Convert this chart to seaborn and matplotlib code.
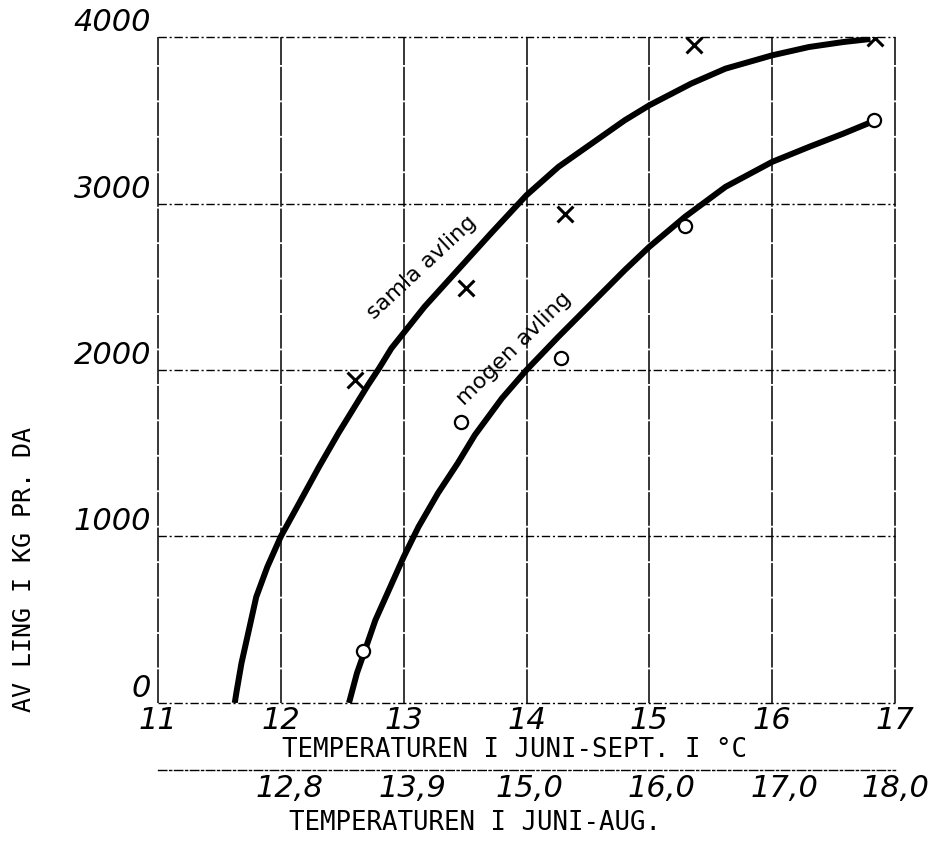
import matplotlib
matplotlib.use("Agg")
import matplotlib.pyplot as plt
import seaborn as sns
import pandas as pd

# Curves (temperature Jun-Sep, yield kg/da)
samla_curve_x = [11.625, 11.64, 11.68, 11.74, 11.80, 11.89, 12.0, 12.15, 12.31,
                 12.47, 12.60, 12.71, 12.80, 12.90, 13.17, 13.44, 13.71, 14.0,
                 14.26, 14.53, 14.80, 15.0, 15.34, 15.62, 16.0, 16.30, 16.58,
                 16.80]
samla_curve_y = [0, 70, 240, 438, 637, 817, 1000, 1201, 1417,
                 1622, 1778, 1910, 2010, 2130, 2380, 2600, 2820, 3050,
                 3220, 3360, 3500, 3590, 3720, 3810, 3890, 3940, 3970,
                 3988]
mogen_curve_x = [12.555, 12.62, 12.68, 12.77, 12.88, 13.0, 13.12, 13.28, 13.44,
                 13.58, 13.80, 14.0, 14.26, 14.53, 14.80, 15.0, 15.29, 15.62,
                 16.0, 16.30, 16.58, 16.81]
mogen_curve_y = [0, 180, 306, 498, 679, 877, 1057, 1261, 1440,
                 1610, 1830, 2000, 2200, 2400, 2600, 2740, 2920, 3100,
                 3250, 3340, 3420, 3490]

# Observed points
samla_pts_x = [12.60, 13.51, 14.31, 15.36, 16.84]
samla_pts_y = [1940, 2490, 2935, 3950, 3995]
mogen_pts_x = [12.67, 13.47, 14.28, 15.29, 16.83]
mogen_pts_y = [312, 1688, 2070, 2862, 3502]

# Axis ticks
x_ticks = [11, 12, 13, 14, 15, 16, 17]
y_ticks = [0, 1000, 2000, 3000, 4000]
aug_tick_pos = [12.07, 13.07, 14.02, 15.1, 16.1, 17.0]
aug_tick_labels = ["12,8", "13,9", "15,0", "16,0", "17,0", "18,0"]

samla_curve = pd.DataFrame({"temp": samla_curve_x, "avling": samla_curve_y})
mogen_curve = pd.DataFrame({"temp": mogen_curve_x, "avling": mogen_curve_y})
samla_pts = pd.DataFrame({"temp": samla_pts_x, "avling": samla_pts_y})
mogen_pts = pd.DataFrame({"temp": mogen_pts_x, "avling": mogen_pts_y})

sns.set_theme(style="white")
plt.rcParams["font.family"] = ["DejaVu Sans"]
plt.rcParams["text.color"] = "black"
plt.rcParams["xtick.color"] = "black"
plt.rcParams["ytick.color"] = "black"
plt.rcParams["axes.labelcolor"] = "black"

fig = plt.figure(figsize=(9.37, 8.43), dpi=100)
ax = fig.add_axes([0.1686, 0.1661, 0.7866, 0.7900])

for curve in (samla_curve, mogen_curve):
    sns.lineplot(x="temp", y="avling", data=curve, sort=False, color="black",
                 linewidth=4.3, solid_joinstyle="round", solid_capstyle="butt",
                 ax=ax, zorder=3)
sns.scatterplot(x="temp", y="avling", data=samla_pts, marker="x", s=130,
                color="black", linewidth=2.2, ax=ax, zorder=5)
sns.scatterplot(x="temp", y="avling", data=mogen_pts, marker="o", s=90,
                facecolor="white", edgecolor="black", linewidth=1.6, ax=ax,
                zorder=5)

ax.set_xlim(11, 17)
ax.set_ylim(0, 4000)
ax.set_xticks(x_ticks)
ax.set_yticks(y_ticks)
ax.set_xticklabels([str(t) for t in x_ticks], fontsize=22, style="italic")
ax.set_yticklabels([str(t) for t in y_ticks], fontsize=22, style="italic")
ax.tick_params(axis="both", length=0)
ax.tick_params(axis="x", pad=2)
ax.tick_params(axis="y", pad=5)
for lab in ax.get_yticklabels():
    lab.set_va("bottom")
ax.set_xlabel("")
ax.set_ylabel("")

for s in ax.spines.values():
    s.set_visible(False)

# grid: vertical lines nearly solid, horizontal ones dash-dotted
ax.grid(False)
for x in x_ticks:
    ax.axvline(x, color="black", linewidth=1.1, linestyle=(0, (22, 1.2)),
               zorder=1, clip_on=False)
for y in y_ticks:
    ax.axhline(y, color="black", linewidth=1.0, linestyle=(0, (6, 2, 1.5, 2)),
               zorder=1, clip_on=False)

# curve labels
ax.text(13.15, 2613, "samla avling", rotation=43, fontsize=16,
        ha="center", va="center", rotation_mode="anchor")
ax.text(13.90, 2126, "mogen avling", rotation=44.5, fontsize=16,
        ha="center", va="center", rotation_mode="anchor")

# secondary temperature scale (Jun-Aug)
sec = ax.secondary_xaxis(-0.1006)
sec.set_xticks(aug_tick_pos)
sec.set_xticklabels(aug_tick_labels, fontsize=22, style="italic")
sec.tick_params(length=0, pad=3)
sec.spines["bottom"].set_linestyle((0, (6, 2, 1.5, 2)))
sec.spines["bottom"].set_linewidth(1.0)
sec.spines["bottom"].set_color("black")

mono = "DejaVu Sans Mono"
fig.text(515 / 937, 1 - 750 / 843, "TEMPERATUREN I JUNI-SEPT. I °C",
         ha="center", va="center", fontsize=18.5, family=mono)
fig.text(475 / 937, 1 - 823 / 843, "TEMPERATUREN I JUNI-AUG.",
         ha="center", va="center", fontsize=18.5, family=mono)
fig.text(24 / 937, 1 - 570 / 843, "AV LING I KG PR. DA", rotation=90,
         ha="center", va="center", fontsize=18, family=mono)

fig.savefig("out.png", dpi=100)
plt.close(fig)
